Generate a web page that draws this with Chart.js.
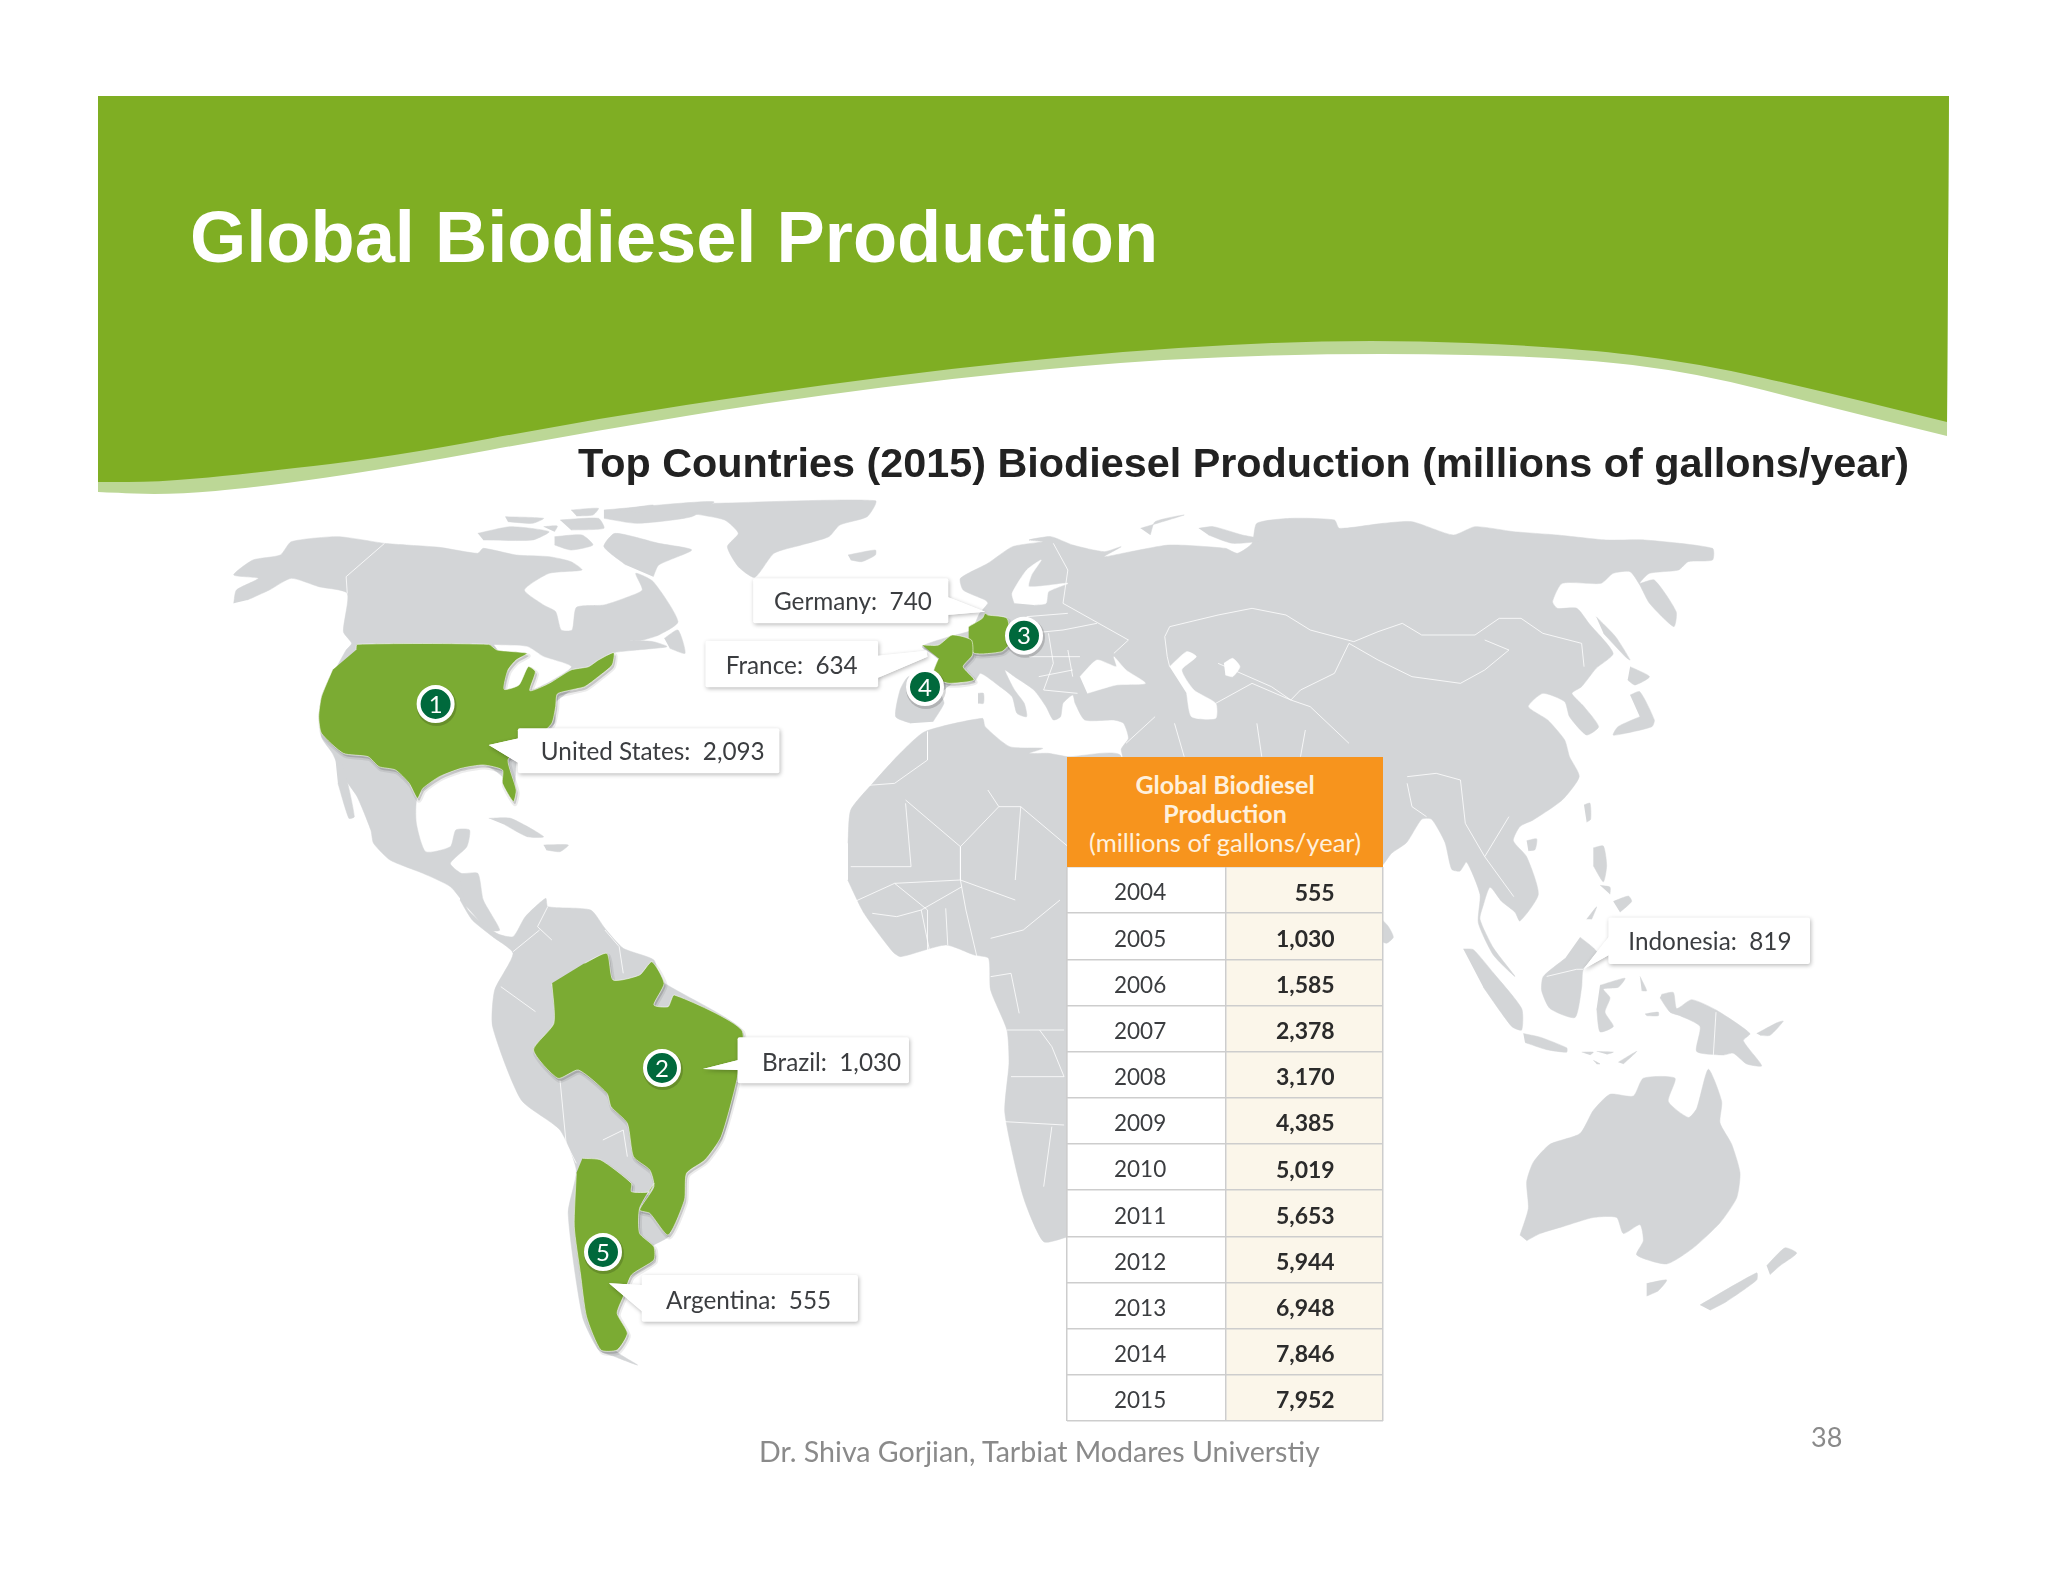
<!DOCTYPE html>
<html><head><meta charset="utf-8">
<script src="https://cdn.jsdelivr.net/npm/chart.js@4"></script>
<style>
html,body{margin:0;padding:0;background:#fff;width:2048px;height:1582px;overflow:hidden}
.t{position:absolute;white-space:nowrap;z-index:5}
#title{left:190px;top:201px;font:bold 72.3px/72px "Liberation Sans",Arial,sans-serif;color:#fff}
#sub{left:578px;top:443px;font:bold 41.33px/41.7px "Liberation Sans",Arial,sans-serif;color:#222}
#foot{left:759px;top:1438px;font:28.6px/27px Lato,sans-serif;color:#8a8a8a}
#num{left:1811px;top:1423px;font:27px/27px Lato,sans-serif;color:#8a8a8a}
#head{position:absolute;left:1067px;top:757px;width:316px;height:110px;background:#f7941d;z-index:4;color:#fff0dc;text-align:center;font:25px/29px Lato,sans-serif;box-sizing:border-box;padding-top:13px}
#head b{font-weight:700}
#head span{font-size:25.6px}
svg{position:absolute;left:0;top:0;z-index:0}
#map{position:absolute;left:0;top:0;z-index:1}
#tbl{position:absolute;left:1066px;top:866px;z-index:3}
</style></head><body>
<svg id="banner" width="2048" height="1582"></svg>
<canvas id="map" width="2048" height="1582"></canvas>
<canvas id="tbl" width="318" height="556"></canvas>
<div class="t" id="title">Global Biodiesel Production</div>
<div class="t" id="sub">Top Countries (2015) Biodiesel Production (millions of gallons/year)</div>
<div id="head"><b>Global Biodiesel<br>Production</b><br><span>(millions of gallons/year)</span></div>
<div class="t" id="foot">Dr. Shiva Gorjian, Tarbiat Modares Universtiy</div>
<div class="t" id="num">38</div>
<script>
// ---------- data ----------
const years = ['2004','2005','2006','2007','2008','2009','2010','2011','2012','2013','2014','2015'];
const globalProduction = [555,1030,1585,2378,3170,4385,5019,5653,5944,6948,7846,7952];
const countries = ['United States','Brazil','Germany','France','Argentina','Indonesia'];
const countryProduction = [2093,1030,740,634,555,819];
const ranks = ['1','2','3','4','5'];

// ---------- traced map outlines (each in the frame of its own region) ----------
const W=p=>p.map(([x,y])=>({x:220+x*860/1568,y:490+y/3}));
const S=p=>p.map(([x,y])=>({x:460+x*640/1568,y:880+y/3}));
const E=p=>p.map(([x,y])=>({x:1000+x*760/1568,y:490+y/3}));
const O=p=>p.map(([x,y])=>({x:1380+x/3,y:780+y*560/1568}));
const P=p=>p.map(([x,y])=>({x,y}));

const northAmerica=W([[25,340],[30,300],[70,265],[25,255],[60,210],[110,195],[130,155],[215,140],[300,160],[340,165],[400,172],[470,190],[480,175],[540,195],[600,200],[640,215],[660,240],[600,250],[555,300],[590,345],[612,365],[622,420],[642,420],[650,352],[700,345],[745,320],[770,300],[758,250],[790,275],[835,395],[800,435],[770,450],[745,450],[790,455],[815,470],[760,480],[715,490],[715,520],[650,590],[610,640],[610,700],[545,780],[535,930],[515,860],[480,825],[400,860],[360,920],[358,1000],[375,1085],[420,1070],[430,1020],[455,1020],[450,1070],[420,1120],[440,1150],[470,1150],[480,1230],[510,1320],[490,1320],[450,1250],[420,1190],[370,1150],[310,1110],[280,1060],[275,1020],[250,920],[225,860],[205,790],[185,740],[185,620],[210,540],[230,480],[240,460],[225,425],[232,310],[180,290],[130,265],[90,300],[50,330]]);
const baja=W([[210,800],[225,830],[245,980],[235,985],[215,880]]);
const baffin=W([[740,225],[700,170],[720,130],[800,160],[860,180],[800,225],[790,260]]);
const arctic1=W([[470,130],[530,110],[600,125],[570,150],[480,150]]);
const arctic2=W([[700,60],[900,35],[860,80],[760,100],[700,85]]);
const arctic3=W([[620,90],[690,85],[700,115],[640,120]]);
const arctic4=W([[520,80],[590,85],[570,100],[525,95]]);
const arctic5=W([[610,140],[660,135],[680,165],[640,180],[610,165]]);
const arctic6=W([[730,60],[790,45],[770,70]]);
const arctic7=W([[640,60],[690,55],[680,75],[650,78]]);
const arctic8=W([[590,110],[615,108],[610,125]]);
const newfoundland=W([[810,445],[835,420],[848,490],[820,475]]);
const greenland=W([[900,40],[1195,32],[1180,80],[1130,105],[1110,140],[1060,165],[1010,190],[975,262],[945,230],[925,170],[945,130],[920,90],[860,70]]);
const iceland=W([[1145,195],[1195,180],[1195,195],[1170,215],[1150,210]]);
const cuba=W([[490,985],[530,985],[590,1040],[560,1040],[520,1005]]);
const hispaniola=W([[590,1065],[635,1065],[620,1085],[595,1080]]);
const sardinia=W([[1382,610],[1392,610],[1392,640],[1382,640]]);

const southAmerica=S([[0,0],[20,90],[90,160],[130,170],[160,110],[210,55],[215,80],[320,90],[355,145],[400,205],[475,240],[490,300],[690,450],[680,600],[640,780],[550,870],[550,960],[510,1070],[470,1100],[480,1130],[470,1150],[410,1200],[385,1290],[385,1340],[405,1370],[380,1410],[435,1455],[380,1430],[340,1410],[300,1310],[265,1000],[285,870],[245,750],[150,660],[80,440],[85,330],[130,220],[80,170],[30,120],[0,60]]);

const eurasia=[
 ...W([[1260,700],[1232,680],[1240,600],[1255,560],[1300,550],[1310,505],[1280,470],[1330,440],[1370,420],[1385,370],[1400,340],[1395,330],[1355,300],[1350,265],[1400,220],[1445,170],[1500,155]]),
 ...E([[60,150],[105,140],[150,165],[215,185],[250,170],[215,200],[270,185],[350,165],[465,175],[490,190],[520,160],[530,100],[600,85],[690,90],[700,115],[790,100],[850,95],[935,135],[980,110],[1060,125],[1150,135],[1250,150],[1330,150],[1470,175],[1470,210],[1420,215],[1400,240],[1340,250],[1320,280],[1350,270],[1395,365],[1390,410],[1340,340],[1320,285],[1300,245],[1265,250],[1240,280],[1160,280],[1140,335],[1150,355],[1190,355],[1215,400],[1265,490],[1230,535],[1200,590],[1180,610],[1205,650],[1235,710],[1210,735],[1175,680],[1165,635],[1120,610],[1090,650],[1130,690],[1165,750],[1175,800],[1195,860],[1160,930],[1100,990]]),
 ...O([[420,130],[400,170],[440,215],[475,320],[420,395],[405,370],[365,340],[330,300],[310,350],[300,390],[340,470],[405,550],[340,490],[295,400],[300,320],[260,230],[240,255],[215,250],[195,175],[155,110],[125,110],[80,175],[35,205],[0,245]]),
 ...P([[1300,900],[1140,800]]),
 ...E([[250,780],[265,745],[255,700],[235,690],[175,690],[155,640],[150,615],[130,640],[125,680],[110,690],[95,650],[70,600],[30,560],[10,540],[30,600],[50,640],[55,680],[35,670],[25,620],[0,590],[-40,550]]),
 ...W([[1375,575],[1340,575],[1315,610],[1320,640],[1300,695]])
];
const africa=[
 ...W([[1145,1060],[1150,960],[1190,880],[1240,790],[1285,725],[1390,685],[1395,710],[1440,770],[1500,775]]),
 ...E([[60,790],[100,790],[140,800],[250,800]]),
 ...P([[1110,1000],[1100,1230]]),
 ...S([[1490,1070],[1430,1085],[1380,950],[1335,700],[1345,550],[1340,450],[1300,330],[1295,235],[1260,225],[1190,195],[1080,230],[1060,215],[990,100],[950,0]]),
 ...W([[1145,1170]])
];
const blackSea=E([[165,560],[200,510],[240,530],[235,500],[260,540],[300,580],[240,585],[180,610]]);
const caspian=E([[350,530],[385,485],[405,500],[375,540],[400,600],[445,640],[445,685],[395,680],[385,610]]);
const aral=E([[462,520],[480,505],[495,530],[480,560],[465,555]]);
const baltic=E([[30,340],[25,310],[55,240],[85,210],[65,255],[60,290],[140,280],[100,305],[95,340],[70,345]]);
const greatLakes=W([[500,465],[560,470],[590,500],[640,530],[600,575],[565,600],[520,598],[525,540],[510,490]]);

const novaya=E([[410,115],[440,110],[500,135],[550,150],[480,160],[430,135]]);
const northIsle=E([[290,115],[380,75],[320,95],[310,135]]);
const honshu=E([[1300,615],[1320,605],[1350,690],[1345,710],[1290,730],[1265,735],[1275,710],[1320,680]]);
const hokkaido=E([[1300,530],[1340,560],[1310,585],[1295,570]]);
const sakhalin=E([[1230,380],[1270,440],[1300,510],[1290,500],[1245,430]]);
const taiwan=O([[612,70],[630,65],[632,110],[620,118]]);
const hainan=O([[440,170],[470,165],[465,195],[445,198]]);
const luzon=O([[640,190],[670,185],[680,240],[670,285],[640,240]]);
const mindanao=O([[700,340],[745,325],[755,340],[720,370]]);
const visayas=O([[660,295],[690,300],[690,320]]);
const palawan=O([[620,390],[650,355],[635,390]]);
const sumatra=O([[250,473],[280,475],[340,540],[425,640],[425,700],[395,690],[310,580]]);
const java=O([[430,710],[480,720],[560,750],[560,762],[500,755],[435,735]]);
const sunda1=O([[605,762],[640,762],[630,770]]);
const sunda2=O([[650,760],[700,762],[680,768]]);
const sunda3=O([[640,785],[660,795],[650,795]]);
const timor=O([[715,790],[770,760],[730,795]]);
const borneo=O([[600,440],[640,470],[655,490],[610,530],[605,580],[585,665],[510,640],[485,590],[490,550],[555,500]]);
const sulawesi=O([[660,575],[735,555],[715,580],[670,585],[690,610],[675,650],[700,690],[660,705],[650,640]]);
const halmahera=O([[780,550],[800,590],[785,590]]);
const newGuinea=O([[845,600],[880,595],[890,640],[935,615],[1010,645],[1110,710],[1090,730],[1145,800],[1100,795],[1060,765],[1030,770],[950,760],[960,690],[900,660],[870,650],[840,610]]);
const newBritain=O([[1130,710],[1190,680],[1210,675],[1170,715],[1140,715]]);
const seram=O([[795,655],[835,650],[835,660],[800,660]]);
const australia=O([[420,1275],[445,1200],[440,1125],[460,1070],[510,1020],[600,990],[640,925],[690,880],[760,885],[790,835],[885,835],[865,900],[925,945],[950,920],[985,810],[1025,900],[1020,960],[1055,1020],[1080,1100],[1070,1170],[1020,1240],[940,1310],[860,1355],[770,1330],[790,1290],[780,1245],[730,1270],[710,1225],[640,1225],[550,1250],[480,1270],[440,1290]]);
const tasmania=O([[800,1410],[860,1400],[835,1430],[800,1445]]);
const nzNorth=O([[1160,1360],[1215,1310],[1250,1325],[1200,1360],[1170,1385]]);
const nzSouth=O([[960,1470],[1130,1380],[1130,1400],[1040,1460],[990,1485]]);
const sriLanka=O([[0,385],[25,410],[40,440],[20,457],[0,450]]);

const usa=W([[248,480],[250,463],[490,463],[505,480],[560,490],[540,510],[525,540],[518,598],[545,585],[562,530],[575,545],[565,602],[600,580],[640,540],[672,530],[690,510],[718,488],[715,525],[690,560],[665,590],[640,600],[615,612],[612,650],[605,700],[580,740],[545,780],[525,810],[540,900],[535,935],[515,880],[515,840],[480,825],[440,835],[400,860],[370,895],[360,925],[345,880],[320,840],[290,830],[270,800],[225,790],[185,730],[180,680],[185,620],[205,540]]);
const france=W([[1280,465],[1310,465],[1335,435],[1370,450],[1372,495],[1355,530],[1375,570],[1330,580],[1310,570],[1300,550],[1310,505]]);
const germany=W([[1365,410],[1390,385],[1395,370],[1400,375],[1435,385],[1440,460],[1425,485],[1375,490],[1365,450]]);
const brazil=S([[305,250],[360,220],[375,300],[440,285],[470,245],[500,310],[475,375],[510,380],[525,345],[690,450],[680,590],[640,770],[600,840],[555,880],[550,960],[510,1065],[465,1000],[440,990],[475,920],[465,870],[425,830],[410,730],[370,680],[360,640],[290,570],[240,595],[180,510],[230,430],[225,310]]);
const argentina=S([[300,835],[345,840],[420,910],[420,935],[465,935],[475,910],[440,985],[440,1060],[475,1100],[475,1140],[420,1185],[400,1250],[385,1300],[410,1360],[385,1410],[345,1410],[310,1310],[295,1180],[280,1040],[285,880]]);

const borders=[
 W([[300,160],[230,260],[232,310]]),
 W([[1290,725],[1290,810],[1230,880],[1150,890]]), W([[1250,930],[1350,1070],[1350,1170]]),
 W([[1400,900],[1420,950],[1460,950],[1568,1100]]), W([[1350,1070],[1420,950]]),
 W([[1150,1130],[1260,1130],[1250,940]]), W([[1450,1170],[1460,950]]),
 W([[1150,1240],[1230,1180],[1350,1170],[1450,1230]]), W([[1290,1400],[1290,1260],[1230,1180]]),
 W([[1380,1400],[1360,1260],[1350,1170]]),
 S([[1010,100],[1070,110],[1130,90],[1230,20]]), S([[1130,90],[1150,210]]), S([[1190,85],[1195,195]]),
 S([[1300,290],[1350,280],[1370,400]]), S([[1340,450],[1480,450]]), S([[1335,725],[1480,735]]),
 S([[1350,590],[1480,590]]), S([[1420,450],[1450,500],[1480,590]]), S([[1450,740],[1430,920]]),
 S([[1300,175],[1380,150],[1470,60]]),
 S([[130,215],[195,150]]), S([[100,320],[185,395]]), S([[245,600],[260,790],[285,850]]), S([[350,780],[400,750],[410,830]]), S([[355,150],[390,200],[400,280]]), S([[215,80],[190,140],[225,180]]),
 E([[340,440],[350,410],[450,375],[520,355],[590,375],[640,420],[730,455]]),
 E([[730,455],[780,425],[830,400],[870,435],[980,435],[1030,385],[1075,385],[1120,430],[1200,460],[1205,530]]),
 E([[1000,450],[1050,480],[1000,540],[950,580],[850,560],[780,510],[720,460],[690,550],[620,600],[600,630],[640,650],[720,760]]),
 E([[130,340],[265,450],[235,490]]), E([[110,160],[140,240],[130,340]]), E([[340,440],[345,500],[350,530]]),
 E([[445,640],[520,580],[600,630]]), E([[450,520],[560,590],[600,630]]), E([[530,700],[540,800]]), E([[320,680],[260,760]]), E([[360,700],[380,800]]),
 E([[630,720],[620,800]]), E([[60,430],[130,420],[200,400]]), E([[60,500],[165,500]]), E([[80,560],[150,540]]), E([[90,600],[160,610]]),
 E([[100,430],[110,520],[90,600]]), E([[140,480],[150,560]]), E([[55,380],[140,370]]),
 E([[840,860],[900,850],[950,870]]), E([[950,870],[960,1000],[1000,1100]]), E([[1050,980],[1000,1100],[1060,1220]]),
 E([[840,880],[850,950],[880,980]]),
 O([[500,550],[590,530],[610,530]]), O([[1008,650],[1000,770]])
];

const callouts=[
 {i:0,frame:W,box:[543,715,1020,850],wedge:[[545,745],[490,765],[545,820]],text:[585,811]},
 {i:1,frame:S,box:[680,472,1100,610],wedge:[[682,540],[595,567],[682,570]],text:[740,573]},
 {i:2,frame:W,box:[972,265,1328,400],wedge:[[1326,320],[1395,365],[1326,375]],text:[1010,361]},
 {i:3,frame:W,box:[885,452,1200,592],wedge:[[1198,497],[1288,482],[1290,500],[1198,565]],text:[922,553]},
 {i:4,frame:S,box:[445,1185,975,1325],wedge:[[447,1215],[365,1210],[447,1295]],text:[505,1288]},
 {i:5,frame:O,box:[685,385,1290,515],wedge:[[687,438],[610,530],[687,490]],text:[745,475]}
];
const markerPlaces=[[435.6,704],[662,1068],[1024,635.7],[925,687],[603,1252]];

// ---------- banner ----------
const edge=[[98,482],[157,482],[235,475],[392,457],[588,420],[784,390],[980,365],[1175,347],[1371,339],[1567,347],[1698,363],[1829,393],[1947,422]];
const lower=[[98,492],[170,495],[261,487],[392,468],[588,432],[784,400],[980,375],[1175,358],[1371,353],[1567,357],[1698,373],[1829,407],[1947,436]];
function smooth(pts){let d='';for(let i=0;i<pts.length-1;i++){const a=pts[i],b=pts[i+1];
  if(i===0)d+=`L${a[0]} ${a[1]} `; const m=[(a[0]+b[0])/2,(a[1]+b[1])/2];
  d+=`Q${a[0]} ${a[1]} ${m[0]} ${m[1]} `;} const l=pts[pts.length-1];return d+`L${l[0]} ${l[1]} `;}
document.getElementById('banner').innerHTML=
 `<path d="M98 96 ${smooth(lower)}L1949 96Z" fill="#bcd796"/><path d="M98 96 ${smooth(edge)}L1949 96Z" fill="#7fae23"/>`;

// ---------- map chart ----------
const gray='#d3d5d7';
const land=[northAmerica,baja,baffin,arctic1,arctic2,arctic3,arctic4,arctic5,arctic6,arctic7,arctic8,newfoundland,greenland,iceland,cuba,hispaniola,sardinia,southAmerica,eurasia,africa,novaya,northIsle,honshu,hokkaido,sakhalin,taiwan,hainan,luzon,mindanao,visayas,palawan,sumatra,java,sunda1,sunda2,sunda3,timor,borneo,sulawesi,halmahera,newGuinea,newBritain,seram,australia,tasmania,nzNorth,nzSouth,sriLanka];
const seas=[blackSea,caspian,aral,baltic,greatLakes];
const producers=[usa,brazil,germany,france,argentina];
const poly=(data,color,extra)=>Object.assign({data,showLine:true,fill:'shape',backgroundColor:color,borderColor:color,borderWidth:0.5,pointRadius:0,tension:0.2},extra||{});
const ds=[];
land.forEach(p=>ds.push(poly(p,gray)));
seas.forEach(p=>ds.push(poly(p,'#ffffff')));
borders.forEach(p=>ds.push({data:p,showLine:true,fill:false,borderColor:'rgba(255,255,255,.8)',borderWidth:1,pointRadius:0}));
producers.forEach(p=>ds.push(poly(p.map(q=>({x:q.x+1.5,y:q.y+2.5})),'rgba(70,70,70,.22)',{borderColor:'rgba(70,70,70,.10)',borderWidth:4})));
producers.forEach(p=>ds.push(poly(p,'#7bab33',{borderColor:'rgba(255,255,255,.55)',borderWidth:1})));
ds.push({label:'Marker shadow',data:markerPlaces.map(([x,y])=>({x:x+1,y:y+2})),showLine:false,pointRadius:20,pointBackgroundColor:'rgba(0,0,0,.16)',pointBorderWidth:0});
ds.push({label:'Rank',data:markerPlaces.map(([x,y])=>({x,y})),showLine:false,pointRadius:17,pointBackgroundColor:'#00693c',pointBorderColor:'#ffffff',pointBorderWidth:4});
ds.forEach((d,i)=>d.order=ds.length-i);

const calloutPlugin={id:'callouts',afterDatasetsDraw(c){
  const g=c.ctx,xs=c.scales.x,ys=c.scales.y;
  const px=q=>[xs.getPixelForValue(q.x),ys.getPixelForValue(q.y)];
  const meta=c.getDatasetMeta(ds.length-1);
  g.save();g.fillStyle='#fff';g.font='24px Lato';g.textAlign='center';g.textBaseline='middle';
  meta.data.forEach((el,i)=>g.fillText(ranks[i],el.x,el.y+1));
  g.restore();
  callouts.forEach(k=>{
    const [a,b,cc,d]=k.box;
    const [[x0,y0],[x1,y1]]=k.frame([[a,b],[cc,d]]).map(px);
    const wedge=k.frame(k.wedge).map(px);
    g.save();
    g.shadowColor='rgba(0,0,0,.28)';g.shadowBlur=4;g.shadowOffsetX=1;g.shadowOffsetY=1.5;
    g.fillStyle='#fff';
    g.beginPath();g.moveTo(wedge[0][0],wedge[0][1]);wedge.slice(1).forEach(w=>g.lineTo(w[0],w[1]));g.closePath();g.fill();
    g.beginPath();g.roundRect(x0,y0,x1-x0,y1-y0,2);g.fill();
    g.shadowColor='transparent';
    g.beginPath();g.moveTo(wedge[0][0],wedge[0][1]);wedge.slice(1).forEach(w=>g.lineTo(w[0],w[1]));g.closePath();g.fill();
    const [tx,ty]=px(k.frame([k.text])[0]);
    g.fillStyle='#3b3d40';g.font='24.3px Lato';g.textAlign='left';g.textBaseline='alphabetic';
    g.fillText(countries[k.i]+':  '+countryProduction[k.i].toLocaleString('en-US'),tx,ty);
    g.restore();
  });
}};

new Chart(document.getElementById('map'),{type:'scatter',data:{datasets:ds},plugins:[calloutPlugin],options:{
  responsive:false,animation:false,devicePixelRatio:1,events:[],
  layout:{padding:0,autoPadding:false},
  plugins:{legend:{display:false},tooltip:{enabled:false},title:{display:false}},
  scales:{x:{type:'linear',display:false,min:0,max:2048},y:{type:'linear',display:false,reverse:true,min:0,max:1582}}
}});

// ---------- table chart ----------
const split=0.503;
const valueLabels={id:'valueLabels',afterDraw(c){
  const g=c.ctx,xs=c.scales.x,ys=c.scales.y;
  g.save();g.fillStyle='#2b2b2b';g.font='700 23px Lato';g.textAlign='right';g.textBaseline='middle';
  globalProduction.forEach((v,i)=>g.fillText(v.toLocaleString('en-US'),xs.getPixelForValue(0.847),ys.getPixelForTick(i)+3));
  g.restore();
}};
new Chart(document.getElementById('tbl'),{type:'bar',plugins:[valueLabels],data:{labels:years,datasets:[
  {label:'Global biodiesel production',data:globalProduction,xAxisID:'xv',backgroundColor:'rgba(0,0,0,0)',grouped:false,barPercentage:1,categoryPercentage:1,order:0},
  {label:'Year cell',data:years.map(()=>[0,split]),xAxisID:'x',backgroundColor:'#ffffff',grouped:false,barPercentage:1,categoryPercentage:1,order:1},
  {label:'Value cell',data:years.map(()=>[split,1]),xAxisID:'x',backgroundColor:'#fbf6ea',grouped:false,barPercentage:1,categoryPercentage:1,order:2}
]},options:{
  indexAxis:'y',responsive:false,animation:false,devicePixelRatio:1,events:[],
  layout:{padding:1,autoPadding:false},
  plugins:{legend:{display:false},tooltip:{enabled:false}},
  scales:{
    xv:{type:'linear',display:false,min:0,max:9000},
    x:{type:'linear',min:0,max:1,border:{display:false},
       afterBuildTicks(s){s.ticks=[{value:0},{value:split},{value:1}];},
       afterFit(s){s.height=0;s.paddingLeft=0;s.paddingRight=0;},
       ticks:{display:false},grid:{color:'#cdcdcd',lineWidth:1.5,drawTicks:false,z:1}},
    y:{type:'category',border:{display:false},
       afterFit(s){s.width=0;s.paddingTop=0;s.paddingBottom=0;},
       ticks:{mirror:true,padding:47,labelOffset:3,color:'#3b3d40',font:{family:'Lato',size:22.5},z:2},
       grid:{color:'#cdcdcd',lineWidth:1.5,drawTicks:false,z:1}}
  }
}});
</script>
</body></html>
